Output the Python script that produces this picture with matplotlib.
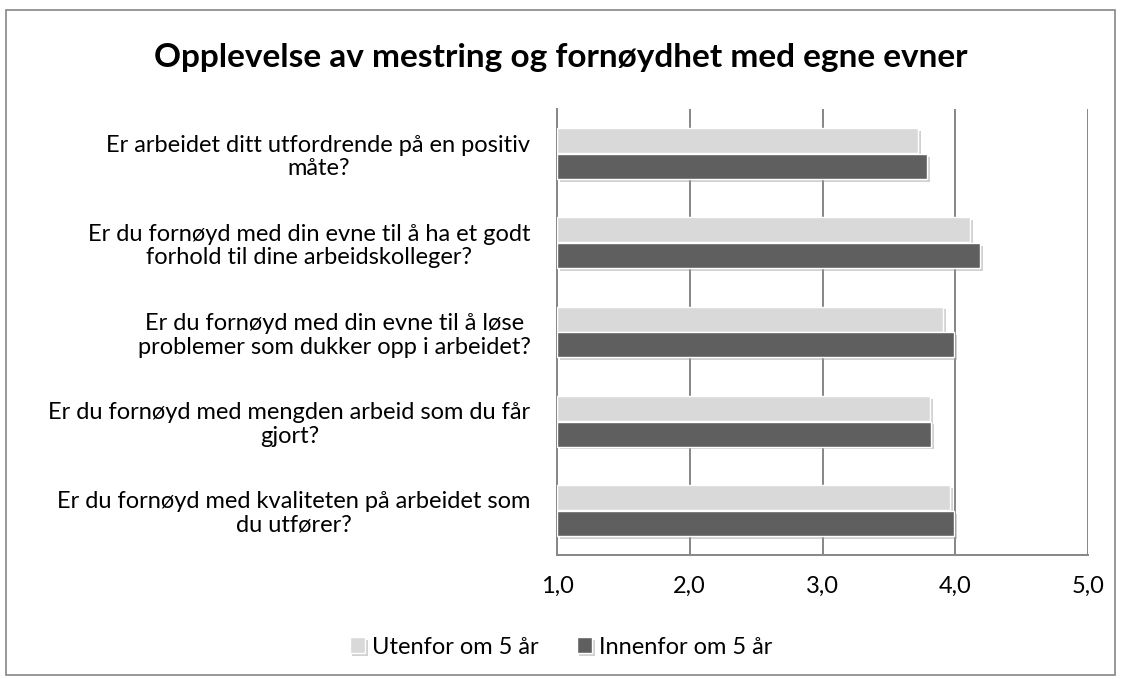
import numpy as np
import matplotlib
matplotlib.use('Agg')
import matplotlib.pyplot as plt
import matplotlib.patheffects as pe
from matplotlib.patches import Rectangle

plt.rcParams['font.family'] = ['Lato', 'DejaVu Sans']

sporsmal = [
    'Er arbeidet ditt utfordrende på en positiv\nmåte?',
    'Er du fornøyd med din evne til å ha et godt\nforhold til dine arbeidskolleger?',
    'Er du fornøyd med din evne til å løse\nproblemer som dukker opp i arbeidet?',
    'Er du fornøyd med mengden arbeid som du får\ngjort?',
    'Er du fornøyd med kvaliteten på arbeidet som\ndu utfører?',
]
utenfor = [3.72, 4.11, 3.91, 3.81, 3.96]
innenfor = [3.79, 4.19, 3.99, 3.82, 3.99]

fig = plt.figure(figsize=(11.22, 6.79), dpi=100)
ax = fig.add_axes([557 / 1122, 1 - 555 / 679, 531 / 1122, 446 / 679])

# ramme rundt hele figuren
fig.patches.append(Rectangle((6 / 1122, 4 / 679), 1109 / 1122, 665 / 679,
                             transform=fig.transFigure, fill=False,
                             edgecolor='#868686', linewidth=1.2))

y = np.arange(len(sporsmal))
h = 0.28
skygge = [pe.SimplePatchShadow(offset=(2, -2), shadow_rgbFace='#999999', alpha=0.45), pe.Normal()]
b1 = ax.barh(y - 0.145, np.array(utenfor) - 1, left=1, height=h, color='#d9d9d9',
             edgecolor='white', linewidth=1, label='Utenfor om 5 år', zorder=3)
b2 = ax.barh(y + 0.145, np.array(innenfor) - 1, left=1, height=h, color='#5f5f5f',
             edgecolor='white', linewidth=1, label='Innenfor om 5 år', zorder=3)
for b in list(b1) + list(b2):
    b.set_path_effects(skygge)

ax.set_xlim(1, 5)
ax.set_ylim(len(sporsmal) - 0.5, -0.5)
ax.set_xticks([1, 2, 3, 4, 5])
ax.set_xticklabels(['1,0', '2,0', '3,0', '4,0', '5,0'], fontsize=17)
ax.set_yticks(y)
ax.set_yticklabels(sporsmal, fontsize=17, ha='right', multialignment='center',
                   linespacing=1.15)
ax.tick_params(axis='y', length=0, pad=19)
ax.tick_params(axis='x', length=0, pad=15)
ax.grid(axis='x', color='#868686', linewidth=1.4, zorder=0)
ax.set_axisbelow(True)
for s in ['top', 'right']:
    ax.spines[s].set_visible(False)
for s in ['left', 'bottom']:
    ax.spines[s].set_color('#868686')
    ax.spines[s].set_linewidth(1.4)

fig.text(0.5, 1 - 57 / 679, 'Opplevelse av mestring og fornøydhet med egne evner',
         ha='center', va='center', fontsize=24, fontweight='bold')

fig.legend(handles=[b1, b2], loc='center', bbox_to_anchor=(0.5, 1 - 647 / 679),
           ncol=2, frameon=False, fontsize=17, handlelength=0.65, handleheight=0.65,
           columnspacing=1.6, handletextpad=0.3)

fig.savefig('out.png', dpi=100)
